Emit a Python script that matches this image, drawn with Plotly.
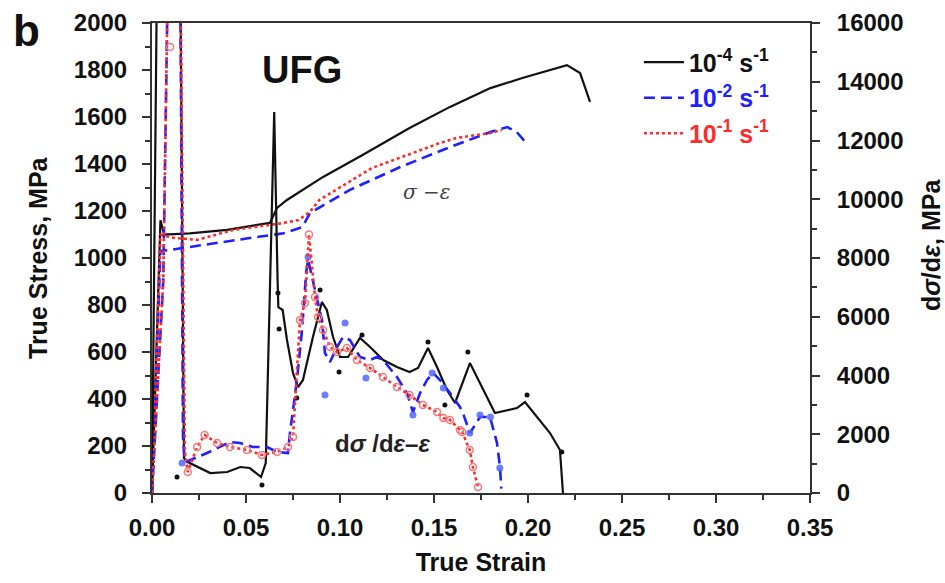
import plotly.graph_objects as go

# ---- stress-strain curves (left axis, MPa) ----
strain_s4 = [0, 0.0045, 0.0065, 0.02, 0.04, 0.0628, 0.0665, 0.0718, 0.091, 0.112,
             0.137, 0.1585, 0.180, 0.197, 0.2207, 0.2277, 0.233]
stress_s4 = [0, 1160, 1100, 1105, 1120, 1150, 1213, 1247, 1345, 1438,
             1553, 1643, 1723, 1766, 1821, 1787, 1664]

strain_s2 = [0, 0.0045, 0.01, 0.03, 0.052, 0.07, 0.080, 0.084, 0.105, 0.132,
             0.1585, 0.180, 0.189, 0.194, 0.200]
stress_s2 = [0, 1030, 1035, 1060, 1085, 1105, 1132, 1191, 1289, 1387,
             1472, 1536, 1557, 1536, 1481]

strain_s1 = [0, 0.0045, 0.012, 0.024, 0.043, 0.056, 0.070, 0.078, 0.084, 0.089,
             0.096, 0.117, 0.133, 0.153, 0.162, 0.180, 0.186]
stress_s1 = [0, 1098, 1085, 1077, 1119, 1132, 1149, 1162, 1196, 1247,
             1281, 1383, 1430, 1489, 1511, 1532, 1545]

# ---- work-hardening rate curves (right axis, MPa) ----
strain_h4 = [0, 0.003, 0.0148, 0.017, 0.019, 0.031, 0.040, 0.047, 0.052, 0.058,
             0.0605, 0.0625, 0.0650, 0.0668, 0.0672, 0.0695, 0.0718, 0.075, 0.0777,
             0.0803, 0.0856, 0.0904, 0.093, 0.0963, 0.100, 0.1043, 0.1106, 0.116,
             0.123, 0.1303, 0.137, 0.1415, 0.1468, 0.1516, 0.1569, 0.1612, 0.1691,
             0.1824, 0.1941, 0.1984, 0.2064, 0.2117, 0.2170, 0.2186]
rate_h4 = [0, 20000, 20000, 1190, 1055, 680, 715, 885, 850, 545,
           1020, 6000, 12970, 7250, 6330, 6230, 5210, 4085, 3608,
           3847, 5310, 6500, 6230, 5310, 4630, 4630, 5276, 4970,
           4527, 4289, 4119, 4255, 4936, 4289, 3506, 3064, 4425,
           2723, 2893, 3098, 2485, 2042, 1464, 0]
strain_h4_pts = [0.0133, 0.0585, 0.067, 0.0676, 0.077, 0.0894, 0.0995, 0.1117,
                 0.1468, 0.1558, 0.168, 0.1995, 0.218]
rate_h4_pts = [545, 272, 6808, 5583, 3234, 6910, 4119, 5378,
               5140, 2996, 4800, 3336, 1396]

strain_h2 = [0, 0.006, 0.009, 0.0148, 0.0165, 0.0176, 0.0293, 0.0415, 0.0468, 0.0537,
             0.0612, 0.0665, 0.0723, 0.0734, 0.0771, 0.0798, 0.0820, 0.0830, 0.0867,
             0.0904, 0.092, 0.0947, 0.0984, 0.1016, 0.1053, 0.1106, 0.116, 0.1197,
             0.1229, 0.1303, 0.1356, 0.1388, 0.1426, 0.1463, 0.1495, 0.1532, 0.1585,
             0.1638, 0.1654, 0.1691, 0.1745, 0.1798, 0.1835, 0.1851, 0.1858]
rate_h2 = [0, 7250, 20000, 20000, 1800, 1050, 1362, 1736, 1702, 1566,
           1566, 1396, 1362, 2042, 3847, 5549, 7500, 7950, 6910,
           5890, 4766, 4459, 4970, 5310, 5208, 4630, 4527, 4630,
           4527, 3949, 3404, 2757, 3404, 3847, 4085, 3847, 3404,
           2927, 2723, 2042, 2587, 2587, 1702, 885, 150]
strain_h2_pts = [0.016, 0.083, 0.092, 0.1027, 0.1138, 0.1388, 0.149, 0.155,
                 0.169, 0.1745, 0.180, 0.185]
rate_h2_pts = [1021, 8033, 3336, 5787, 3915, 2655, 4085, 3574,
               2042, 2655, 2587, 850]

strain_h1 = [0, 0.006, 0.009, 0.0148, 0.0175, 0.019, 0.024, 0.028, 0.0346, 0.0415,
             0.0505, 0.0585, 0.0665, 0.0723, 0.075, 0.0787, 0.0814, 0.0835, 0.0867,
             0.0883, 0.091, 0.0947, 0.0984, 0.1037, 0.109, 0.116, 0.1229, 0.1303,
             0.137, 0.1441, 0.1516, 0.155, 0.1585, 0.1638, 0.165, 0.169, 0.1707,
             0.1734]
rate_h1 = [0, 7250, 20000, 20000, 1400, 715, 1566, 1974, 1702, 1566,
           1464, 1294, 1396, 1566, 1906, 5890, 6468, 8800, 6672,
           5990, 5549, 4970, 4800, 4936, 4527, 4255, 3949, 3608,
           3336, 2995, 2757, 2553, 2485, 2145, 2076, 1464, 885,
           204]
strain_h1_pts = [0.0096] + strain_h1[5:]
rate_h1_pts = [15180] + rate_h1[5:]

BLACK = "#111111"
BLUE = "#1f1fff"
RED = "#ff2a2a"
AXIS = "#333333"
FONT = "Liberation Sans, Arial, sans-serif"

fig = go.Figure()


def legend_name(text, color):
    return f"<span style='color:{color}'><b>{text}</b></span>"


# stress-strain
fig.add_trace(go.Scatter(x=strain_s4, y=stress_s4, mode="lines",
                         line=dict(color=BLACK, width=2.2),
                         name=legend_name("10<sup>-4</sup> s<sup>-1</sup>", BLACK)))
fig.add_trace(go.Scatter(x=strain_s2, y=stress_s2, mode="lines",
                         line=dict(color=BLUE, width=2.6, dash="11px,6px"),
                         name=legend_name("10<sup>-2</sup> s<sup>-1</sup>", BLUE)))
fig.add_trace(go.Scatter(x=strain_s1, y=stress_s1, mode="lines",
                         line=dict(color=RED, width=2.6, dash="dot"),
                         name=legend_name("10<sup>-1</sup> s<sup>-1</sup>", RED)))

# hardening rate curves
fig.add_trace(go.Scatter(x=strain_h4, y=rate_h4, yaxis="y2", mode="lines",
                         line=dict(color=BLACK, width=2.2), showlegend=False))
fig.add_trace(go.Scatter(x=strain_h4_pts, y=rate_h4_pts, yaxis="y2", mode="markers",
                         marker=dict(color=BLACK, size=5), showlegend=False))
fig.add_trace(go.Scatter(x=strain_h2, y=rate_h2, yaxis="y2", mode="lines",
                         line=dict(color=BLUE, width=2.6, dash="11px,6px"),
                         showlegend=False))
fig.add_trace(go.Scatter(x=strain_h2_pts, y=rate_h2_pts, yaxis="y2", mode="markers",
                         marker=dict(color="#5566ff", size=7, opacity=0.85),
                         showlegend=False))
fig.add_trace(go.Scatter(x=strain_h1, y=rate_h1, yaxis="y2", mode="lines",
                         line=dict(color=RED, width=2.6, dash="dot"),
                         showlegend=False))
fig.add_trace(go.Scatter(x=strain_h1_pts, y=rate_h1_pts, yaxis="y2", mode="markers",
                         marker=dict(symbol="circle-open", color="#f27a7a", size=7,
                                     line=dict(width=1.5)),
                         showlegend=False))

axis_common = dict(
    showline=True, linecolor=AXIS, linewidth=2,
    ticks="outside", ticklen=8, tickwidth=2, tickcolor=AXIS,
    showgrid=False, zeroline=False, automargin=False,
    tickfont=dict(family=FONT, size=24, color="#111111", weight="bold"),
)
minor_common = dict(ticks="outside", ticklen=5, tickwidth=1.5, tickcolor=AXIS)

fig.update_layout(
    width=945, height=583,
    margin=dict(l=152, r=135, t=23, b=90),
    paper_bgcolor="white", plot_bgcolor="white",
    font=dict(family=FONT, color="#111111"),
    xaxis=dict(range=[0, 0.35], dtick=0.05, tick0=0, tickformat=".2f", mirror=True,
               minor=dict(dtick=0.025, **minor_common),
               title=dict(text="<b>True Strain</b>", font=dict(size=25), standoff=14),
               ticklabelstandoff=4,
               **axis_common),
    yaxis=dict(range=[0, 2000], dtick=200, tick0=0, ticklabelstandoff=10,
               minor=dict(dtick=100, **minor_common),
               **axis_common),
    yaxis2=dict(range=[0, 16000], dtick=2000, tick0=0, overlaying="y", side="right",
                tickformat="d", ticklabelstandoff=12,
                minor=dict(dtick=1000, **minor_common),
                **axis_common),
    legend=dict(x=0.74, y=0.965, xanchor="left", yanchor="top",
                bgcolor="rgba(0,0,0,0)", font=dict(family=FONT, size=25),
                tracegroupgap=0, itemwidth=40),
    annotations=[
        dict(text="<b>b</b>", xref="paper", yref="paper", x=-0.191, y=0.985,
             xanchor="center", yanchor="middle", showarrow=False,
             font=dict(family=FONT, size=44, color="#111111")),
        dict(text="<b>True Stress, MPa</b>", xref="paper", yref="paper",
             x=(38 - 152) / 658, y=0.5, textangle=-90,
             xanchor="center", yanchor="middle", showarrow=False,
             font=dict(family=FONT, size=25, color="#111111")),
        dict(text="<b>d<i>σ</i>/d<i>ε</i>, MPa</b>", xref="paper", yref="paper",
             x=(931 - 152) / 658, y=(493 - 245) / 470, textangle=-90,
             xanchor="center", yanchor="middle", showarrow=False,
             font=dict(family=FONT, size=25, color="#111111")),
        dict(text="<b>UFG</b>", xref="paper", yref="paper", x=0.228, y=0.90,
             xanchor="center", yanchor="middle", showarrow=False,
             font=dict(family=FONT, size=38, color="#111111")),
        dict(text="<i>σ</i> −<i>ε</i>", xref="paper", yref="paper", x=0.418, y=0.64,
             xanchor="center", yanchor="middle", showarrow=False,
             font=dict(family="DejaVu Serif, serif", size=20, color="#444444")),
        dict(text="<b>d<i>σ</i> /d<i>ε</i>–<i>ε</i></b>", xref="paper", yref="paper",
             x=0.35, y=0.106, xanchor="center", yanchor="middle", showarrow=False,
             font=dict(family=FONT, size=24, color="#222222")),
    ],
)

fig.write_html("out.html")
